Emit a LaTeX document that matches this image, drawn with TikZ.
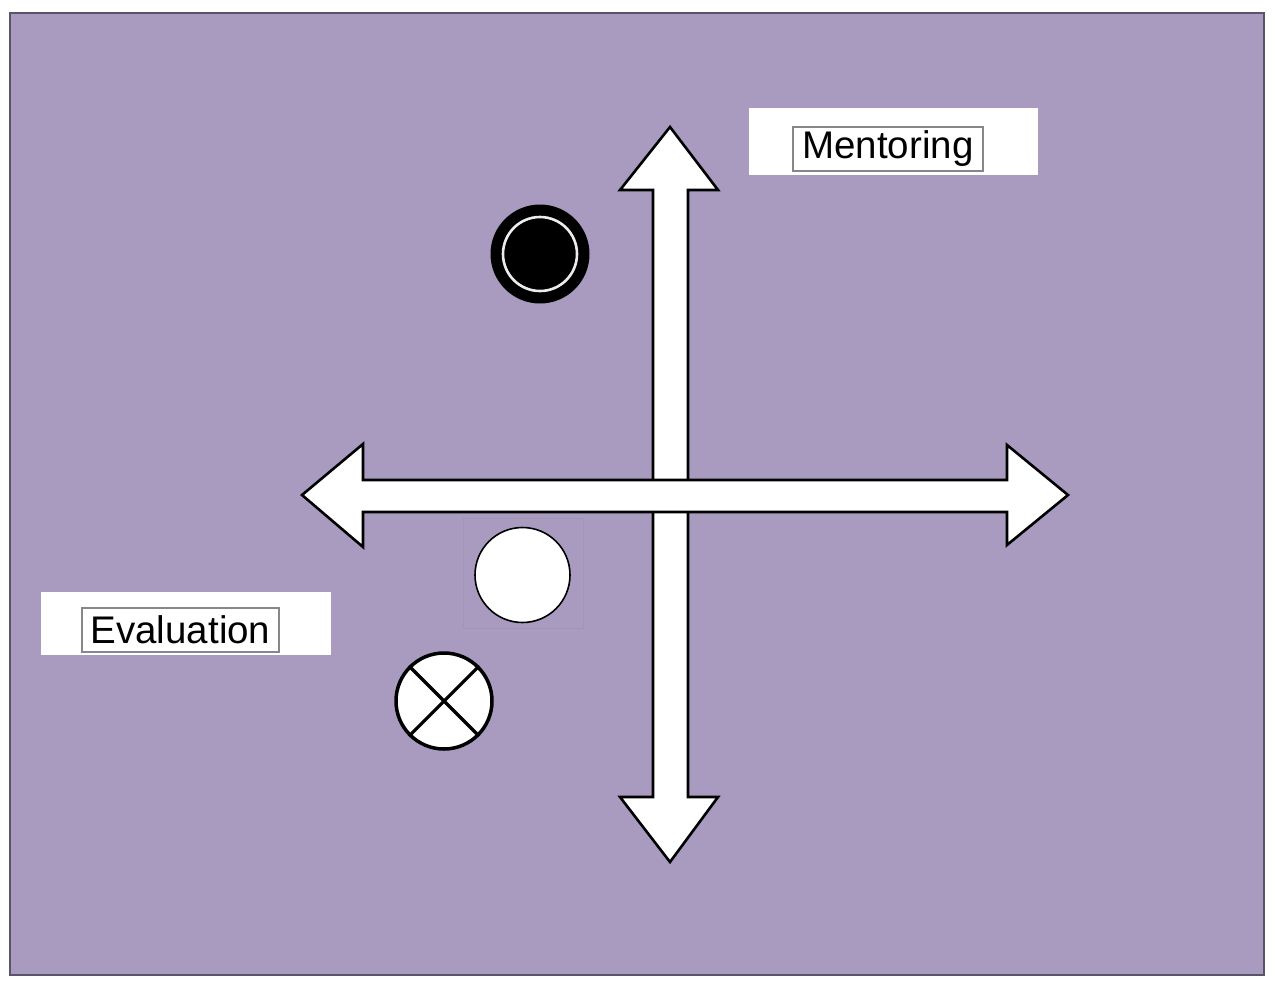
\documentclass[tikz,border=0pt]{standalone}
\usepackage{fontspec}
\setmainfont{Liberation Sans}
\definecolor{panel}{RGB}{169,155,192}
\definecolor{frameline}{RGB}{90,84,104}
\definecolor{labelrule}{RGB}{135,135,135}
\begin{document}
\begin{tikzpicture}[x=1pt,y=-1pt,
  blockarrow/.style={fill=white,draw=black,line width=2.6pt,line join=miter},
  labelpad/.style={fill=white,draw=none},
  labeltext/.style={draw=labelrule,line width=1.3pt,fill=white,inner sep=0pt,
    font=\fontsize{38.5}{42}\selectfont},
  marker/.style={circle,inner sep=0pt}]
\useasboundingbox (0,0) rectangle (1281,980);
% panel
\draw[fill=panel,draw=frameline,line width=2.2pt] (10,13) rectangle (1264,975);

% vertical double arrow
\draw[blockarrow] (670,127) -- (718,190) -- (688,190) -- (688,797) -- (718,797)
  -- (670,862) -- (620,797) -- (653,797) -- (653,190) -- (620,190) -- cycle;
% horizontal double arrow, laid over the vertical one
\draw[blockarrow] (302,495) -- (363,444) -- (363,480) -- (1007,480) -- (1007,445)
  -- (1068,495) -- (1007,545) -- (1007,512) -- (363,512) -- (363,547) -- cycle;

% label: Mentoring
\fill[labelpad] (749,108) rectangle (1038,175);
\node[labeltext,minimum width=190pt,minimum height=44pt] (mentoring) at (888,149) {Mentoring};

% label: Evaluation
\fill[labelpad] (41,592) rectangle (331,655);
\node[labeltext,minimum width=197pt,minimum height=44pt] (evaluation) at (180.5,630) {Evaluation};

% filled bullseye marker
\node[marker,fill=black,minimum size=99pt] (bullseye) at (540,254) {};
\draw[white!85!gray,line width=2.6pt] (bullseye.center) circle[radius=37];

% open marker with its faint frame
\draw[draw=panel!80!gray,line width=1pt] (463,518) rectangle (583,628);
\node[marker,fill=white,draw=black,line width=1.6pt,minimum size=95pt] (open) at (522.5,575) {};

% crossed marker
\node[marker,fill=white,draw=black,line width=3.5pt,minimum size=96pt] (crossed) at (444,701) {};
\draw[black,line width=3.2pt] (crossed.north west) -- (crossed.south east)
  (crossed.north east) -- (crossed.south west);
\end{tikzpicture}
\end{document}
